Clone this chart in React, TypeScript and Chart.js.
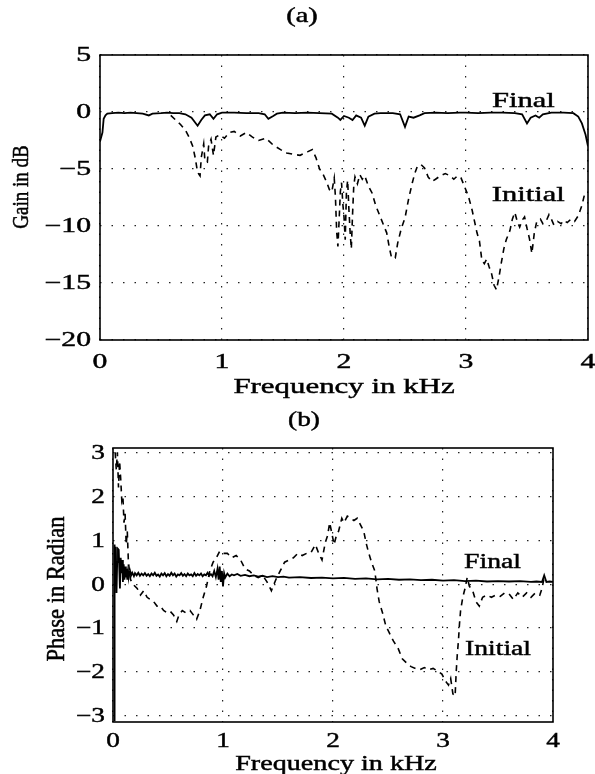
import React, { useEffect, useRef } from "react";
import { Chart, registerables } from "chart.js";

Chart.register(...registerables);

// ---------- data ----------
const gainXTicks = [0, 1, 2, 3, 4];
const gainYTicks = [5, 0, -5, -10, -15, -20];
const phaseXTicks = [0, 1, 2, 3, 4];
const phaseYTicks = [3, 2, 1, 0, -1, -2, -3];

// (a) gain in dB vs frequency in kHz
const gainFinal: [number, number][] = [
  [0.0, -2.6], [0.01, -2.2], [0.02, -1.8], [0.03, -0.6], [0.045, -0.3], [0.06, -0.15],
  [0.1, -0.1], [0.15, -0.05], [0.2, -0.1], [0.25, -0.05], [0.3, -0.1], [0.35, -0.15],
  [0.4, -0.3], [0.43, -0.15], [0.5, -0.1], [0.55, -0.05], [0.6, -0.1], [0.65, -0.1],
  [0.7, -0.2], [0.75, -0.5], [0.8, -1.2], [0.83, -0.7], [0.86, -0.3], [0.9, -0.2],
  [0.93, -0.6], [0.96, -0.2], [1.0, -0.05], [1.1, -0.05], [1.2, -0.1], [1.3, -0.1],
  [1.35, -0.2], [1.38, -0.6], [1.42, -0.35], [1.45, -0.15], [1.5, -0.05], [1.6, -0.1],
  [1.7, -0.05], [1.8, -0.1], [1.9, -0.15], [1.95, -0.5], [1.97, -0.7], [2.0, -0.35],
  [2.04, -0.5], [2.07, -0.7], [2.1, -0.3], [2.14, -0.5], [2.17, -1.2], [2.2, -0.4],
  [2.25, -0.15], [2.3, -0.1], [2.4, -0.1], [2.46, -0.2], [2.5, -1.3], [2.53, -0.4],
  [2.57, -0.5], [2.62, -0.3], [2.66, -0.1], [2.75, -0.05], [2.85, -0.1], [2.95, -0.05],
  [3.0, -0.05], [3.1, -0.1], [3.2, -0.05], [3.3, -0.05], [3.4, -0.1], [3.46, -0.2],
  [3.5, -1.0], [3.53, -0.5], [3.57, -0.3], [3.6, -0.5], [3.63, -0.2], [3.7, -0.05],
  [3.8, -0.05], [3.88, -0.1], [3.92, -0.4], [3.95, -1.0], [3.98, -2.0], [4.0, -3.0],
];

const gainInitial: [number, number][] = [
  [0.58, -0.3], [0.62, -0.7], [0.66, -1.1], [0.7, -1.6], [0.73, -2.2], [0.76, -3.0],
  [0.78, -4.0], [0.8, -5.3], [0.82, -5.6], [0.83, -4.0], [0.85, -2.8], [0.86, -4.3],
  [0.88, -4.4], [0.89, -3.0], [0.91, -2.4], [0.93, -3.8], [0.95, -2.2], [0.98, -2.0],
  [1.02, -2.3], [1.06, -1.8], [1.1, -1.7], [1.15, -2.1], [1.2, -1.8], [1.25, -2.2],
  [1.3, -2.5], [1.36, -2.3], [1.42, -2.9], [1.48, -3.3], [1.53, -3.6], [1.58, -3.7],
  [1.64, -3.8], [1.7, -3.5], [1.74, -3.3], [1.77, -4.0], [1.8, -5.0], [1.83, -5.5],
  [1.86, -6.2], [1.88, -6.8], [1.9, -7.0], [1.92, -5.8], [1.93, -7.5], [1.94, -10.5],
  [1.95, -11.8], [1.96, -9.5], [1.97, -7.0], [1.98, -6.2], [1.99, -8.0], [2.0, -9.2],
  [2.01, -11.2], [2.02, -7.0], [2.03, -6.0], [2.04, -8.5], [2.05, -10.5], [2.06, -12.0],
  [2.07, -9.0], [2.08, -6.5], [2.09, -5.7], [2.11, -6.3], [2.13, -5.5], [2.15, -5.9],
  [2.17, -5.6], [2.2, -6.5], [2.23, -7.1], [2.26, -8.2], [2.29, -9.0], [2.32, -9.8],
  [2.35, -10.6], [2.37, -11.8], [2.39, -12.8], [2.42, -12.8], [2.44, -11.5], [2.47, -10.2],
  [2.5, -9.3], [2.53, -7.6], [2.56, -6.2], [2.58, -5.4], [2.6, -4.8], [2.63, -4.6],
  [2.66, -4.9], [2.69, -5.7], [2.72, -6.1], [2.75, -5.9], [2.79, -5.6], [2.83, -5.4],
  [2.87, -5.6], [2.9, -5.9], [2.93, -5.6], [2.96, -5.8], [2.99, -6.6], [3.02, -7.4],
  [3.05, -8.6], [3.07, -9.6], [3.09, -10.6], [3.11, -11.3], [3.13, -13.0], [3.15, -13.3],
  [3.17, -12.9], [3.19, -13.6], [3.21, -14.2], [3.23, -15.2], [3.25, -15.6], [3.27, -14.5],
  [3.29, -13.2], [3.31, -12.0], [3.33, -11.2], [3.36, -10.4], [3.38, -9.4], [3.4, -8.8],
  [3.42, -9.6], [3.44, -10.1], [3.46, -9.5], [3.48, -9.2], [3.5, -10.2], [3.52, -11.1],
  [3.54, -12.4], [3.56, -10.6], [3.58, -9.6], [3.61, -9.4], [3.63, -9.8], [3.66, -9.5],
  [3.68, -9.0], [3.7, -9.4], [3.72, -9.9], [3.75, -9.6], [3.78, -9.8], [3.8, -9.5],
  [3.83, -9.7], [3.86, -9.4], [3.89, -9.6], [3.92, -9.1], [3.95, -8.2], [3.97, -7.3],
];

// (b) phase in radian vs frequency in kHz
const phaseFinal: [number, number][] = [
  [0.006, -3.1], [0.01, -3.1], [0.013, -1.0], [0.016, 0.9], [0.021, 0.2], [0.026, 0.85],
  [0.032, -0.2], [0.038, 0.5], [0.045, 0.8], [0.052, 0.78], [0.058, 0.3], [0.063, -0.1],
  [0.07, 0.6], [0.077, 0.25], [0.084, 0.55], [0.09, 0.05], [0.097, 0.45], [0.104, 0.1],
  [0.11, 0.4], [0.117, 0.15], [0.124, 0.35], [0.13, 0.1], [0.137, 0.3], [0.145, 0.18],
  [0.155, 0.3], [0.165, 0.2], [0.175, 0.26], [0.19, 0.18], [0.2, 0.25], [0.215, 0.2],
  [0.23, 0.26], [0.245, 0.19], [0.26, 0.24], [0.275, 0.2], [0.29, 0.25], [0.305, 0.19],
  [0.32, 0.23], [0.335, 0.18], [0.35, 0.24], [0.365, 0.2], [0.38, 0.26], [0.395, 0.19],
  [0.41, 0.22], [0.425, 0.17], [0.44, 0.24], [0.455, 0.2], [0.47, 0.25], [0.485, 0.18],
  [0.5, 0.23], [0.515, 0.19], [0.53, 0.26], [0.545, 0.2], [0.56, 0.24], [0.575, 0.17],
  [0.59, 0.22], [0.605, 0.2], [0.62, 0.25], [0.635, 0.19], [0.65, 0.23], [0.665, 0.18],
  [0.68, 0.24], [0.695, 0.2], [0.71, 0.22], [0.725, 0.18], [0.74, 0.25], [0.755, 0.19],
  [0.77, 0.23], [0.785, 0.2], [0.8, 0.24], [0.815, 0.18], [0.83, 0.22], [0.845, 0.2],
  [0.86, 0.26], [0.875, 0.19], [0.89, 0.23], [0.905, 0.18], [0.92, 0.3], [0.935, 0.16],
  [0.95, 0.35], [0.96, 0.1], [0.97, 0.4], [0.98, 0.05], [0.99, 0.3], [1.0, -0.05],
  [1.01, 0.25], [1.02, 0.15], [1.04, 0.24], [1.06, 0.18], [1.08, 0.22], [1.1, 0.2],
  [1.13, 0.23], [1.16, 0.19], [1.2, 0.21], [1.24, 0.18], [1.28, 0.2], [1.32, 0.17],
  [1.36, 0.19], [1.4, 0.16], [1.45, 0.18], [1.5, 0.16], [1.55, 0.17], [1.6, 0.15],
  [1.7, 0.16], [1.8, 0.14], [1.9, 0.15], [2.0, 0.13], [2.1, 0.14], [2.2, 0.12],
  [2.3, 0.13], [2.4, 0.11], [2.5, 0.12], [2.6, 0.1], [2.7, 0.11], [2.8, 0.09],
  [2.9, 0.1], [3.0, 0.08], [3.1, 0.09], [3.2, 0.07], [3.3, 0.08], [3.4, 0.06],
  [3.5, 0.07], [3.6, 0.06], [3.7, 0.07], [3.8, 0.05], [3.85, 0.06], [3.9, 0.05],
  [3.92, 0.2], [3.94, 0.05], [3.97, 0.06], [4.0, 0.05],
];

const phaseInitial: [number, number][] = [
  [0.02, 3.0], [0.03, 2.6], [0.04, 3.0], [0.05, 2.2], [0.06, 2.8], [0.07, 2.4],
  [0.08, 1.9], [0.09, 2.0], [0.1, 1.4], [0.11, 1.6], [0.12, 0.9], [0.13, 1.2],
  [0.14, 0.5], [0.16, 0.1], [0.18, 0.0], [0.22, -0.1], [0.25, -0.25], [0.28, -0.15],
  [0.31, -0.3], [0.34, -0.35], [0.37, -0.4], [0.4, -0.5], [0.43, -0.5], [0.46, -0.6],
  [0.49, -0.65], [0.52, -0.62], [0.55, -0.7], [0.58, -0.85], [0.6, -0.7], [0.63, -0.6],
  [0.66, -0.65], [0.7, -0.6], [0.73, -0.7], [0.76, -0.8], [0.79, -0.6], [0.82, -0.3],
  [0.85, -0.05], [0.88, 0.3], [0.91, 0.5], [0.94, 0.6], [0.97, 0.75], [1.0, 0.7],
  [1.04, 0.7], [1.08, 0.6], [1.12, 0.65], [1.16, 0.55], [1.2, 0.35], [1.24, 0.3],
  [1.28, 0.2], [1.32, 0.15], [1.36, 0.2], [1.4, 0.05], [1.44, -0.15], [1.48, 0.1],
  [1.52, 0.3], [1.56, 0.5], [1.6, 0.55], [1.64, 0.6], [1.68, 0.7], [1.72, 0.65],
  [1.76, 0.7], [1.8, 0.72], [1.84, 0.9], [1.87, 0.7], [1.9, 0.55], [1.93, 0.95],
  [1.95, 1.1], [1.97, 1.4], [1.99, 1.15], [2.01, 0.9], [2.03, 1.1], [2.05, 1.2],
  [2.08, 1.5], [2.1, 1.4], [2.13, 1.55], [2.16, 1.5], [2.19, 1.45], [2.22, 1.5],
  [2.25, 1.35], [2.28, 1.2], [2.3, 0.95], [2.32, 0.75], [2.35, 0.5], [2.38, 0.3],
  [2.4, -0.1], [2.42, -0.4], [2.45, -0.65], [2.48, -0.95], [2.51, -1.1], [2.55, -1.3],
  [2.59, -1.45], [2.63, -1.7], [2.67, -1.8], [2.71, -1.88], [2.75, -1.92], [2.79, -1.95],
  [2.83, -1.9], [2.87, -1.95], [2.91, -1.92], [2.95, -1.98], [2.99, -2.05], [3.02, -2.2],
  [3.05, -2.3], [3.07, -2.15], [3.09, -2.5], [3.11, -2.55], [3.12, -2.0], [3.13, -1.6],
  [3.14, -1.3], [3.15, -0.9], [3.16, -0.6], [3.18, -0.3], [3.2, -0.1], [3.22, 0.15],
  [3.24, -0.05], [3.27, -0.15], [3.3, -0.4], [3.33, -0.5], [3.36, -0.3], [3.4, -0.25],
  [3.44, -0.3], [3.48, -0.25], [3.52, -0.28], [3.56, -0.2], [3.6, -0.22], [3.64, -0.35],
  [3.68, -0.2], [3.72, -0.3], [3.76, -0.2], [3.8, -0.3], [3.84, -0.2], [3.88, -0.25],
  [3.9, -0.1], [3.92, 0.15],
];

// curve labels, placed in data coordinates
const gainNotes = [
  { text: "Final", x: 3.47, y: 0.9 },
  { text: "Initial", x: 3.51, y: -7.3 },
];
const phaseNotes = [
  { text: "Final", x: 3.45, y: 0.48 },
  { text: "Initial", x: 3.5, y: -1.5 },
];

// ---------- drawing helpers ----------
const SERIF = "'Liberation Serif', 'Times New Roman', Times, serif";

const fmt = (v: number) => (v < 0 ? "\u2212" + Math.abs(v) : String(v));

function drawText(
  ctx: CanvasRenderingContext2D,
  text: string,
  x: number,
  y: number,
  size: number,
  stretch: number,
  align: CanvasTextAlign = "center",
  rotate = 0
) {
  ctx.save();
  ctx.translate(x, y);
  ctx.scale(stretch, 1);
  if (rotate) ctx.rotate(rotate);
  ctx.font = `${size}px ${SERIF}`;
  ctx.fillStyle = "#000";
  ctx.strokeStyle = "#000";
  ctx.lineWidth = 0.45;
  ctx.textAlign = align;
  ctx.textBaseline = "middle";
  ctx.fillText(text, 0, 0);
  ctx.strokeText(text, 0, 0);
  ctx.restore();
}

type TextSpec = { text: string; x: number; y: number; size: number; stretch: number };

type PanelSpec = {
  id: string;
  xTicks: number[];
  yTicks: number[];
  tickSize: number;
  tickStretch: number;
  xTickDy: number;
  yTickGap: number;
  panelLabel: TextSpec;
  xTitle: TextSpec;
  yTitle: TextSpec;
  notes: { text: string; x: number; y: number }[];
  noteSize: number;
  noteStretch: number;
};

function panelPlugin(spec: PanelSpec) {
  return {
    id: "panel_" + spec.id,
    afterDraw(chart: any) {
      const ctx: CanvasRenderingContext2D = chart.ctx;
      const { left, right, top, bottom } = chart.chartArea;
      const xs = chart.scales.x;
      const ys = chart.scales.y;
      // frame
      ctx.save();
      ctx.strokeStyle = "#000";
      ctx.lineWidth = 1.6;
      ctx.strokeRect(left, top, right - left, bottom - top);
      ctx.restore();
      // tick labels
      for (const v of spec.xTicks) {
        drawText(ctx, fmt(v), xs.getPixelForValue(v), bottom + spec.xTickDy, spec.tickSize, spec.tickStretch);
      }
      for (const v of spec.yTicks) {
        drawText(ctx, fmt(v), left - spec.yTickGap, ys.getPixelForValue(v) + 1, spec.tickSize, spec.tickStretch, "right");
      }
      // titles
      const p = spec.panelLabel;
      drawText(ctx, p.text, p.x, p.y, p.size, p.stretch);
      const xt = spec.xTitle;
      drawText(ctx, xt.text, xt.x, xt.y, xt.size, xt.stretch);
      const yt = spec.yTitle;
      drawText(ctx, yt.text, yt.x, yt.y, yt.size, yt.stretch, "center", -Math.PI / 2);
      // curve labels
      for (const n of spec.notes) {
        drawText(ctx, n.text, xs.getPixelForValue(n.x), ys.getPixelForValue(n.y), spec.noteSize, spec.noteStretch);
      }
    },
  };
}

function makeConfig(opts: {
  solid: [number, number][];
  dashed: [number, number][];
  xMin: number;
  xMax: number;
  yMin: number;
  yMax: number;
  xTicks: number[];
  yTicks: number[];
  padTop: number;
  padRight: number;
  yWidth: number;
  xHeight: number;
  spec: PanelSpec;
}): any {
  const gridCommon = { color: "#222", lineWidth: 1.2, drawTicks: false };
  return {
    type: "line",
    data: {
      datasets: [
        {
          label: "Final",
          data: opts.solid.map(([x, y]) => ({ x, y })),
          borderColor: "#000",
          borderWidth: 1.8,
          pointRadius: 0,
          tension: 0,
          fill: false,
        },
        {
          label: "Initial",
          data: opts.dashed.map(([x, y]) => ({ x, y })),
          borderColor: "#000",
          borderWidth: 1.6,
          borderDash: [6, 5],
          pointRadius: 0,
          tension: 0,
          fill: false,
        },
      ],
    },
    options: {
      responsive: false,
      animation: false,
      devicePixelRatio: 1,
      events: [],
      layout: { padding: { top: opts.padTop, right: opts.padRight, left: 0, bottom: 0 } },
      plugins: { legend: { display: false }, tooltip: { enabled: false }, title: { display: false } },
      scales: {
        x: {
          type: "linear",
          min: opts.xMin,
          max: opts.xMax,
          afterBuildTicks: (s: any) => {
            s.ticks = opts.xTicks.map((v) => ({ value: v }));
          },
          afterFit: (s: any) => {
            s.height = opts.xHeight;
          },
          ticks: { display: false },
          grid: gridCommon,
          border: { display: false, dash: [1.5, 9] },
        },
        y: {
          type: "linear",
          min: opts.yMin,
          max: opts.yMax,
          afterBuildTicks: (s: any) => {
            s.ticks = opts.yTicks.map((v) => ({ value: v }));
          },
          afterFit: (s: any) => {
            s.width = opts.yWidth;
          },
          ticks: { display: false },
          grid: gridCommon,
          border: { display: false, dash: [1.5, 10] },
        },
      },
    },
    plugins: [panelPlugin(opts.spec)],
  };
}

const topSpec: PanelSpec = {
  id: "a",
  xTicks: gainXTicks,
  yTicks: gainYTicks,
  tickSize: 20.5,
  tickStretch: 1.45,
  xTickDy: 23,
  yTickGap: 9,
  panelLabel: { text: "(a)", x: 302, y: 16, size: 21, stretch: 1.35 },
  xTitle: { text: "Frequency in kHz", x: 344, y: 387, size: 21, stretch: 1.47 },
  yTitle: { text: "Gain in dB", x: 22, y: 187, size: 19, stretch: 1.2 },
  notes: gainNotes,
  noteSize: 21.5,
  noteStretch: 1.42,
};

const bottomSpec: PanelSpec = {
  id: "b",
  xTicks: phaseXTicks,
  yTicks: phaseYTicks,
  tickSize: 20.5,
  tickStretch: 1.33,
  xTickDy: 20,
  yTickGap: 8,
  panelLabel: { text: "(b)", x: 304, y: 20, size: 21, stretch: 1.3 },
  xTitle: { text: "Frequency in kHz", x: 336, y: 364, size: 21, stretch: 1.34 },
  yTitle: { text: "Phase in Radian", x: 57, y: 189, size: 22.5, stretch: 1.12 },
  notes: phaseNotes,
  noteSize: 20.5,
  noteStretch: 1.35,
};

export default function App() {
  const topRef = useRef<HTMLCanvasElement>(null);
  const botRef = useRef<HTMLCanvasElement>(null);

  useEffect(() => {
    const c1 = new Chart(
      topRef.current as HTMLCanvasElement,
      makeConfig({
        solid: gainFinal,
        dashed: gainInitial,
        xMin: 0,
        xMax: 4,
        yMin: -20,
        yMax: 5,
        xTicks: gainXTicks,
        yTicks: gainYTicks,
        padTop: 55,
        padRight: 7,
        yWidth: 100,
        xHeight: 60,
        spec: topSpec,
      })
    );
    const c2 = new Chart(
      botRef.current as HTMLCanvasElement,
      makeConfig({
        solid: phaseFinal,
        dashed: phaseInitial,
        xMin: 0,
        xMax: 4,
        yMin: -3.14,
        yMax: 3.1,
        xTicks: phaseXTicks,
        yTicks: phaseYTicks,
        padTop: 48,
        padRight: 42,
        yWidth: 113,
        xHeight: 52,
        spec: bottomSpec,
      })
    );
    return () => {
      c1.destroy();
      c2.destroy();
    };
  }, []);

  return (
    <div
      style={{
        position: "absolute",
        left: 0,
        top: 0,
        width: 595,
        height: 774,
        background: "#fff",
        overflow: "hidden",
      }}
    >
      <canvas ref={topRef} width={595} height={400} style={{ position: "absolute", left: 0, top: 0 }} />
      <canvas ref={botRef} width={595} height={374} style={{ position: "absolute", left: 0, top: 400 }} />
    </div>
  );
}
